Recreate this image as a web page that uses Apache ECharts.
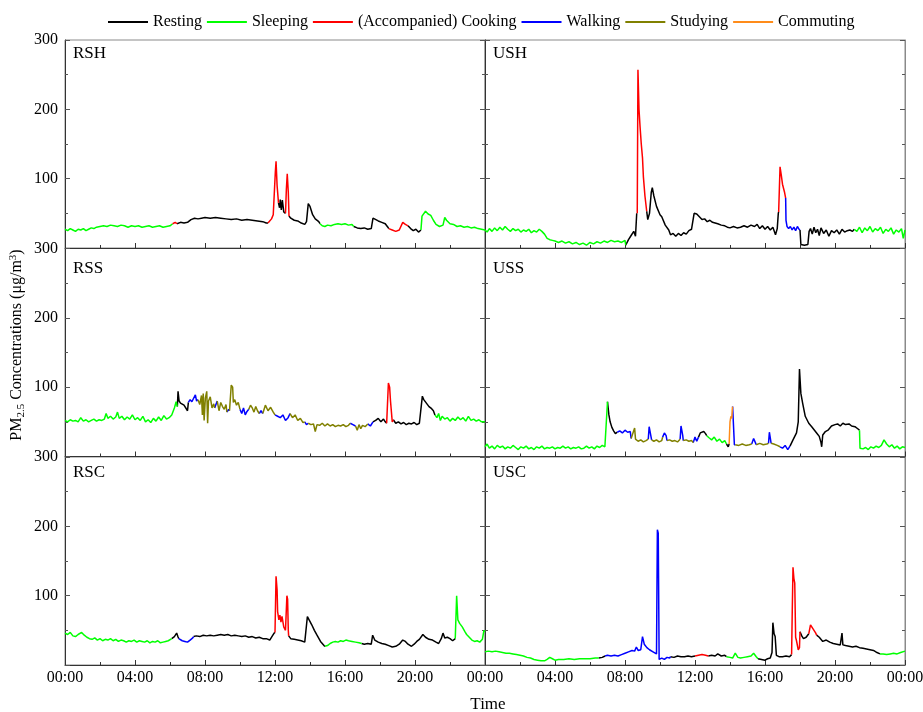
<!doctype html>
<html lang="en">
<head>
<meta charset="UTF-8">
<title>PM2.5 Concentrations</title>
<style>html,body{margin:0;padding:0;background:#fff}#chart{width:923px;height:712px}</style>
</head>
<body>
<div id="chart"></div>
<script src="https://cdn.jsdelivr.net/npm/echarts@6/dist/echarts.min.js"></script>
<script>
var activities = ['Resting', 'Sleeping', '(Accompanied) Cooking', 'Walking', 'Studying', 'Commuting'];
var actCodes = ['R', 'S', 'C', 'W', 'D', 'M'];
var actColors = ['#000000', '#00ff00', '#ff0000', '#0000ff', '#808000', '#ff8c1a'];
var xTickLabels = ['00:00', '04:00', '08:00', '12:00', '16:00', '20:00', '00:00'];
var panelNames = ['RSH', 'USH', 'RSS', 'USS', 'RSC', 'USC'];

// [hour, PM2.5]
var rshData = [[0,27],[0.15,25],[0.3,28],[0.45,26],[0.6,24],[0.75,27],[0.9,26],[1.05,28],[1.2,25],[1.35,27],[1.5,29],[1.65,28],[1.8,30],[2,31],[2.2,32],[2.4,31],[2.6,33],[2.8,32],[3,31],[3.2,33],[3.4,32],[3.6,30],[3.8,32],[4,31],[4.2,32],[4.4,30],[4.6,31],[4.8,32],[5,30],[5.2,31],[5.4,32],[5.6,30],[5.8,31],[6,32],[6.15,35],[6.3,37],[6.4,35],[6.6,37],[6.8,36],[7,37],[7.2,41],[7.4,43],[7.6,42],[7.8,43],[8,44],[8.3,43],[8.6,44],[8.9,43],[9.2,42],[9.5,41],[9.8,42],[10.1,40],[10.4,41],[10.7,40],[11,39],[11.3,38],[11.5,36],[11.6,36],[11.8,42],[11.9,48],[12.02,110],[12.06,125],[12.12,90],[12.2,65],[12.26,58],[12.3,70],[12.36,55],[12.42,69],[12.5,52],[12.6,50],[12.65,85],[12.7,107],[12.76,80],[12.8,46],[12.9,43],[13.1,40],[13.3,39],[13.5,36],[13.7,34],[13.8,38],[13.9,64],[14,60],[14.15,48],[14.3,42],[14.5,38],[14.57,35],[14.7,32],[14.85,31],[15,33],[15.2,32],[15.4,34],[15.6,35],[15.8,34],[16,35],[16.2,33],[16.4,34],[16.5,31],[16.7,29],[16.9,28],[17.1,29],[17.3,27],[17.5,28],[17.6,43],[17.7,41],[17.9,39],[18.1,37],[18.3,35],[18.45,30],[18.5,28],[18.7,26],[18.9,24],[19.1,26],[19.3,37],[19.45,34],[19.6,32],[19.75,28],[19.9,25],[20.05,27],[20.2,23],[20.34,26],[20.4,46],[20.6,53],[20.75,49],[20.9,47],[21.05,40],[21.2,34],[21.4,31],[21.6,33],[21.7,44],[21.8,40],[22,35],[22.2,34],[22.4,31],[22.6,32],[22.8,30],[23,31],[23.2,29],[23.4,30],[23.6,28],[23.8,27],[24,26]];
var rshActs = [[0,'S'],[6.15,'C'],[6.4,'R'],[11.6,'C'],[12.2,'R'],[12.6,'C'],[12.8,'R'],[14.57,'S'],[16.5,'R'],[18.5,'C'],[19.6,'R'],[20.34,'S']];

var ushData = [[0,26],[0.12,23],[0.25,28],[0.4,24],[0.55,29],[0.7,25],[0.85,30],[1,26],[1.15,31],[1.3,27],[1.45,24],[1.6,28],[1.75,25],[1.9,27],[2.05,23],[2.2,26],[2.35,24],[2.5,27],[2.65,22],[2.8,25],[2.95,23],[3.1,27],[3.25,24],[3.4,20],[3.55,14],[3.7,12],[3.85,11],[4,10],[4.2,8],[4.4,10],[4.6,7],[4.8,9],[5,6],[5.2,8],[5.4,5],[5.6,7],[5.8,4],[6,8],[6.2,6],[6.4,9],[6.6,7],[6.8,10],[7,8],[7.2,11],[7.4,9],[7.6,10],[7.8,8],[8,11],[8.04,4],[8.2,12],[8.35,18],[8.5,24],[8.6,17],[8.67,50],[8.7,50],[8.74,257],[8.8,200],[8.86,175],[8.93,150],[9,130],[9.05,103],[9.14,75],[9.24,53],[9.3,41],[9.4,50],[9.5,80],[9.56,87],[9.65,75],[9.8,60],[10,48],[10.1,45],[10.3,33],[10.5,26],[10.6,19],[10.75,21],[10.9,17],[11.05,21],[11.2,18],[11.35,22],[11.5,20],[11.65,25],[11.8,27],[11.95,50],[12.1,49],[12.25,45],[12.4,41],[12.55,42],[12.7,38],[12.85,40],[13,37],[13.15,36],[13.3,35],[13.5,33],[13.7,32],[13.85,30],[14,29],[14.2,31],[14.4,29],[14.6,30],[14.8,32],[15,30],[15.2,33],[15.4,31],[15.55,34],[15.7,28],[15.85,32],[16,27],[16.15,31],[16.3,26],[16.45,30],[16.6,19],[16.7,28],[16.76,50],[16.78,52],[16.86,117],[16.93,105],[17,92],[17.08,94],[17.12,80],[17.18,72],[17.2,40],[17.26,31],[17.35,28],[17.45,31],[17.55,26],[17.65,30],[17.75,25],[17.85,31],[17.95,27],[18,26],[18.05,5],[18.25,4],[18.45,5],[18.52,24],[18.6,28],[18.7,20],[18.8,30],[18.9,22],[19,27],[19.1,18],[19.2,29],[19.35,21],[19.5,26],[19.65,17],[19.8,25],[19.95,22],[20.1,26],[20.25,20],[20.4,27],[20.55,23],[20.7,25],[20.85,26],[21,24],[21.1,27],[21.25,24],[21.4,30],[21.55,22],[21.7,29],[21.85,25],[22,31],[22.15,23],[22.3,28],[22.45,25],[22.6,30],[22.75,21],[22.9,27],[23.05,24],[23.2,29],[23.35,20],[23.5,26],[23.65,23],[23.8,28],[23.9,14],[24,26]];
var ushActs = [[0,'S'],[8.04,'R'],[8.7,'C'],[9.24,'R'],[16.78,'C'],[17.18,'W'],[18,'R'],[21.1,'S']];

var rssData = [[0,52],[0.15,50],[0.3,53],[0.45,51],[0.6,52],[0.75,50],[0.9,56],[1.05,51],[1.2,53],[1.35,50],[1.5,52],[1.65,54],[1.8,51],[1.95,53],[2.1,52],[2.25,54],[2.35,62],[2.45,55],[2.6,58],[2.75,54],[2.9,57],[3,64],[3.1,55],[3.25,58],[3.4,53],[3.55,57],[3.7,54],[3.85,60],[4,53],[4.15,56],[4.3,52],[4.45,58],[4.6,50],[4.75,53],[4.9,49],[5.05,55],[5.2,51],[5.35,57],[5.5,52],[5.65,59],[5.8,54],[5.95,56],[6.1,60],[6.25,70],[6.35,79],[6.42,72],[6.46,94],[6.52,80],[6.6,77],[6.7,79],[6.8,74],[6.9,76],[7,66],[7.05,78],[7.15,82],[7.25,79],[7.35,84],[7.45,89],[7.52,80],[7.6,82],[7.7,75],[7.8,88],[7.85,60],[7.9,91],[7.95,52],[8.02,84],[8.1,94],[8.15,48],[8.2,80],[8.3,86],[8.4,70],[8.5,76],[8.55,70],[8.65,68],[8.7,80],[8.8,66],[8.9,78],[9,72],[9.1,68],[9.2,75],[9.25,64],[9.35,68],[9.4,66],[9.5,103],[9.58,100],[9.62,78],[9.7,82],[9.8,74],[9.9,78],[10,68],[10.1,62],[10.2,70],[10.3,60],[10.4,65],[10.5,68],[10.6,74],[10.7,70],[10.8,64],[10.9,72],[11,66],[11.1,62],[11.2,66],[11.3,62],[11.45,74],[11.6,66],[11.75,71],[11.9,64],[12,60],[12.15,58],[12.3,56],[12.45,60],[12.6,52],[12.75,56],[12.86,62],[13,56],[13.15,60],[13.3,52],[13.45,55],[13.6,49],[13.7,50],[13.8,46],[13.9,48],[14.05,46],[14.2,47],[14.3,36],[14.4,46],[14.55,45],[14.7,48],[14.85,44],[15,47],[15.15,44],[15.3,46],[15.45,43],[15.6,45],[15.75,44],[15.9,46],[16.05,43],[16.2,45],[16.3,48],[16.45,46],[16.6,44],[16.7,38],[16.8,46],[16.9,40],[17,45],[17.15,43],[17.3,47],[17.45,44],[17.6,50],[17.75,52],[17.9,55],[18.05,50],[18.2,54],[18.3,50],[18.38,48],[18.48,106],[18.55,100],[18.6,80],[18.7,50],[18.76,53],[18.9,48],[19.05,50],[19.2,47],[19.35,49],[19.5,46],[19.65,48],[19.8,47],[19.95,49],[20.1,46],[20.25,48],[20.35,47],[20.42,87],[20.5,82],[20.65,77],[20.8,72],[20.95,69],[21.05,66],[21.14,60],[21.25,56],[21.35,62],[21.45,52],[21.55,58],[21.7,54],[21.85,56],[22,51],[22.15,55],[22.3,52],[22.45,57],[22.6,53],[22.75,56],[22.9,51],[23.05,58],[23.2,52],[23.35,54],[23.5,51],[23.65,53],[23.8,50],[24,50]];
var rssActs = [[0,'S'],[6.42,'R'],[7.05,'W'],[7.6,'D'],[8.55,'W'],[8.7,'D'],[9.25,'W'],[9.4,'D'],[10,'W'],[10.5,'D'],[11.1,'W'],[11.3,'D'],[12,'W'],[12.86,'D'],[13.7,'W'],[13.9,'D'],[16.3,'W'],[16.6,'D'],[17.3,'W'],[17.6,'R'],[18.38,'C'],[18.76,'R'],[21.14,'S']];

var ussData = [[0,14],[0.12,18],[0.25,12],[0.4,15],[0.55,11],[0.7,16],[0.85,13],[1,15],[1.15,11],[1.3,14],[1.45,12],[1.6,16],[1.75,13],[1.9,10],[2.05,14],[2.2,12],[2.35,15],[2.5,11],[2.65,13],[2.8,10],[2.95,14],[3.1,12],[3.25,15],[3.4,11],[3.55,13],[3.7,12],[3.85,14],[4,11],[4.15,13],[4.3,12],[4.45,15],[4.6,12],[4.75,14],[4.9,11],[5.05,13],[5.2,12],[5.35,14],[5.5,11],[5.65,12],[5.8,15],[5.95,12],[6.1,14],[6.25,11],[6.4,15],[6.55,13],[6.7,16],[6.85,14],[6.95,15],[7,79],[7.08,60],[7.15,50],[7.25,42],[7.35,37],[7.45,33],[7.56,35],[7.7,37],[7.85,34],[8,38],[8.15,35],[8.3,36],[8.35,26],[8.45,24],[8.55,41],[8.6,25],[8.75,22],[8.9,24],[9.05,21],[9.2,23],[9.33,25],[9.38,43],[9.48,41],[9.52,24],[9.65,22],[9.8,24],[9.95,21],[10.1,23],[10.15,28],[10.25,34],[10.35,30],[10.4,23],[10.55,24],[10.7,22],[10.85,23],[11,21],[11.15,25],[11.2,44],[11.3,30],[11.33,23],[11.5,24],[11.65,22],[11.8,23],[11.9,20],[12,28],[12.1,22],[12.2,28],[12.3,34],[12.4,32],[12.5,36],[12.6,33],[12.67,30],[12.8,27],[12.95,24],[13.1,28],[13.25,22],[13.4,25],[13.55,20],[13.7,23],[13.8,18],[13.9,14],[13.95,18],[14,50],[14.05,58],[14.1,55],[14.13,68],[14.15,72],[14.2,74],[14.25,17],[14.3,17],[14.5,16],[14.7,18],[14.9,16],[15.1,17],[15.24,18],[15.35,26],[15.45,20],[15.5,17],[15.7,19],[15.9,17],[16.1,18],[16.2,19],[16.25,35],[16.3,33],[16.35,19],[16.5,18],[16.7,16],[16.86,14],[17,12],[17.15,16],[17.3,10],[17.4,14],[17.43,15],[17.6,24],[17.8,34],[17.9,50],[17.97,126],[18.05,91],[18.15,77],[18.3,58],[18.5,48],[18.67,43],[18.95,34],[19.1,29],[19.2,20],[19.24,14],[19.3,31],[19.45,36],[19.6,38],[19.8,44],[20,46],[20.15,47],[20.3,44],[20.45,48],[20.6,46],[20.8,47],[20.95,44],[21.14,43],[21.3,40],[21.4,38],[21.43,12],[21.6,11],[21.75,13],[21.9,10],[22.05,14],[22.2,12],[22.35,15],[22.5,13],[22.65,16],[22.8,24],[22.95,18],[23.1,14],[23.25,17],[23.4,12],[23.55,15],[23.7,11],[23.85,14],[24,13]];
var ussActs = [[0,'S'],[7,'R'],[7.56,'W'],[8.35,'D'],[9.33,'W'],[9.52,'D'],[10.15,'W'],[10.4,'D'],[11.15,'W'],[11.33,'D'],[11.9,'W'],[12.2,'R'],[12.67,'S'],[13.8,'R'],[13.95,'M'],[14.15,'W'],[14.3,'D'],[15.24,'W'],[15.5,'D'],[16.2,'W'],[16.35,'D'],[16.86,'W'],[17.43,'R'],[21.4,'S']];

var rscData = [[0,46],[0.15,44],[0.3,47],[0.45,42],[0.6,41],[0.75,44],[0.95,47],[1.1,43],[1.25,40],[1.4,38],[1.55,37],[1.7,39],[1.85,36],[2,38],[2.15,35],[2.3,37],[2.45,36],[2.6,38],[2.75,35],[2.9,37],[3.05,34],[3.2,36],[3.35,35],[3.5,33],[3.65,35],[3.8,34],[3.95,36],[4.1,33],[4.25,35],[4.4,34],[4.55,33],[4.7,35],[4.85,32],[5,34],[5.15,33],[5.3,35],[5.45,32],[5.6,33],[5.75,34],[5.9,35],[6,36],[6.1,38],[6.25,41],[6.38,46],[6.45,41],[6.5,38],[6.7,35],[6.85,34],[7,33],[7.15,36],[7.3,39],[7.35,41],[7.5,42],[7.7,41],[7.9,43],[8.1,42],[8.3,43],[8.5,42],[8.7,43],[8.9,44],[9.1,43],[9.3,44],[9.5,42],[9.7,43],[9.9,42],[10.1,41],[10.3,42],[10.5,40],[10.7,41],[10.9,39],[11.1,40],[11.3,38],[11.5,38],[11.7,36],[11.85,42],[11.95,46],[12,47],[12.06,128],[12.12,108],[12.15,77],[12.22,65],[12.28,72],[12.34,62],[12.4,70],[12.5,55],[12.6,50],[12.68,100],[12.72,95],[12.76,50],[12.78,42],[12.9,38],[13.1,37],[13.3,36],[13.5,35],[13.7,33],[13.78,32],[13.85,70],[13.95,65],[14.1,58],[14.25,50],[14.4,43],[14.6,34],[14.8,28],[14.86,27],[15,28],[15.15,31],[15.3,33],[15.45,34],[15.6,33],[15.75,35],[15.9,34],[16.05,36],[16.2,35],[16.4,34],[16.6,33],[16.8,32],[16.95,31],[17.1,30],[17.3,31],[17.5,30],[17.58,43],[17.7,36],[17.9,33],[18.1,31],[18.3,30],[18.5,28],[18.7,26],[18.9,27],[19.1,30],[19.3,36],[19.45,34],[19.6,30],[19.8,27],[19.95,30],[20.1,34],[20.25,37],[20.45,44],[20.6,40],[20.8,37],[21,36],[21.2,33],[21.35,31],[21.5,38],[21.6,46],[21.7,39],[21.85,40],[22,38],[22.15,35],[22.25,36],[22.3,38],[22.38,100],[22.45,65],[22.55,60],[22.7,55],[22.85,48],[22.95,44],[23.1,40],[23.25,36],[23.4,34],[23.55,35],[23.7,33],[23.85,37],[23.94,50],[24,48]];
var rscActs = [[0,'S'],[6.1,'R'],[6.5,'W'],[7.33,'R'],[12,'C'],[12.77,'R'],[14.85,'S'],[16.95,'R'],[22.28,'S']];

var uscData = [[0,19],[0.2,20],[0.4,19],[0.6,20],[0.8,19],[1,18],[1.2,17],[1.4,17],[1.6,16],[1.8,15],[2,14],[2.2,13],[2.4,11],[2.6,10],[2.8,8],[3,7],[3.2,6],[3.4,6],[3.55,8],[3.7,11],[3.85,9],[4,7],[4.2,8],[4.5,8],[4.8,9],[5.1,8],[5.4,9],[5.7,9],[6,9],[6.3,10],[6.5,10],[6.7,11],[6.86,13],[7,14],[7.2,13],[7.4,14],[7.6,13],[7.8,15],[8,17],[8.2,19],[8.4,21],[8.55,20],[8.65,26],[8.75,21],[8.9,22],[9,41],[9.1,30],[9.25,25],[9.4,22],[9.6,19],[9.8,16],[9.85,195],[9.9,190],[9.95,8],[10.1,10],[10.25,8],[10.4,11],[10.55,10],[10.6,12],[10.8,11],[11,13],[11.2,12],[11.4,12],[11.6,13],[11.8,12],[12,13],[12.2,14],[12.4,15],[12.6,14],[12.76,13],[12.95,14],[13.15,13],[13.3,16],[13.5,13],[13.7,14],[13.8,12],[14,11],[14.15,10],[14.3,17],[14.45,11],[14.6,10],[14.8,11],[15,12],[15.2,13],[15.35,17],[15.5,12],[15.6,9],[15.8,8],[16,7],[16.15,9],[16.3,10],[16.4,18],[16.45,61],[16.52,45],[16.58,41],[16.65,14],[16.8,12],[17,12],[17.2,13],[17.4,12],[17.5,13],[17.52,15],[17.56,82],[17.6,141],[17.65,125],[17.7,118],[17.75,40],[17.8,35],[17.9,22],[17.97,25],[18,48],[18.1,42],[18.2,38],[18.35,40],[18.45,41],[18.5,45],[18.6,58],[18.7,56],[18.8,50],[18.9,46],[18.95,43],[19.1,40],[19.3,34],[19.5,36],[19.7,33],[19.9,31],[20.1,30],[20.3,29],[20.4,46],[20.45,29],[20.6,28],[20.8,27],[21,26],[21.2,27],[21.4,25],[21.6,24],[21.8,23],[22,22],[22.2,21],[22.4,18],[22.57,16],[22.75,16],[22.95,15],[23.15,16],[23.35,17],[23.55,16],[23.75,18],[24,20]];
var uscActs = [[0,'S'],[6.5,'R'],[6.86,'W'],[10.57,'R'],[12,'C'],[12.7,'R'],[13.8,'S'],[15.6,'R'],[17.52,'C'],[18,'R'],[18.5,'C'],[18.95,'R'],[22.57,'S']];

var panels = [
    {data: rshData, acts: rshActs},
    {data: ushData, acts: ushActs},
    {data: rssData, acts: rssActs},
    {data: ussData, acts: ussActs},
    {data: rscData, acts: rscActs},
    {data: uscData, acts: uscActs}
];

var font = 'Liberation Serif';
var colLeft = [65, 485];
var rowTop = [40, 248.5, 457];
var nameTop = [45, 260, 464];

function actAt(acts, t) {
    var a = acts[0][1];
    for (var i = 0; i < acts.length; i++) {
        if (acts[i][0] <= t) a = acts[i][1];
    }
    return a;
}

var grids = [], xAxes = [], yAxes = [], series = [], graphics = [];

panels.forEach(function (p, i) {
    var r = Math.floor(i / 2), c = i % 2;
    grids.push({left: colLeft[c], top: rowTop[r], width: 420, height: 208,
        outerBoundsMode: 'none', containLabel: false,
        show: true, borderColor: '#8a8a8a', borderWidth: 1});
    xAxes.push({
        gridIndex: i, type: 'value', min: 0, max: 24, interval: 4,
        axisLine: {lineStyle: {color: '#333'}},
        axisTick: {inside: true, length: 5, lineStyle: {color: '#333'}},
        minorTick: {show: true, splitNumber: 2, length: 3, lineStyle: {color: '#333'}},
        splitLine: {show: false},
        axisLabel: {
            show: r === 2, showMaxLabel: c === 1, margin: 5,
            color: '#000', fontFamily: font, fontSize: 16,
            formatter: function (v) { return xTickLabels[Math.round(v / 4)]; }
        }
    });
    [['left', c === 0], ['right', false]].forEach(function (s) {
        yAxes.push({
            gridIndex: i, type: 'value', min: 0, max: 300, interval: 100, position: s[0],
            axisLine: {show: true, lineStyle: {color: s[0] === 'left' ? '#333' : '#8a8a8a'}},
            axisTick: {show: true, inside: true, length: 5, lineStyle: {color: '#555'}},
            minorTick: {show: true, splitNumber: 2, length: 3, lineStyle: {color: '#555'}},
            splitLine: {show: false},
            axisLabel: {
                show: s[1], margin: 7, color: '#000', fontFamily: font, fontSize: 16,
                formatter: function (v) { return v === 0 ? '' : v; }
            }
        });
    });

    var codes = p.data.map(function (d) { return actAt(p.acts, d[0]); });
    actCodes.forEach(function (code, k) {
        if (codes.indexOf(code) < 0) return;
        var pts = p.data.map(function (d, j) {
            var on = codes[j] === code || (j > 0 && codes[j - 1] === code);
            return [d[0], on ? d[1] : '-'];
        });
        series.push({
            type: 'line', name: activities[k], xAxisIndex: i, yAxisIndex: 2 * i,
            data: pts, symbol: 'none', connectNulls: false, animation: false,
            lineStyle: {width: 1.5, color: actColors[k]},
            itemStyle: {color: actColors[k]}
        });
    });

    graphics.push({
        type: 'text', left: colLeft[c] + 8, top: nameTop[r],
        style: {text: panelNames[i], font: '17px "Liberation Serif"', fill: '#000'}
    });
});

graphics.push({
    type: 'text', x: 17, y: 345, rotation: Math.PI / 2,
    style: {
        text: 'PM{sub|2.5} Concentrations (μg/m{sup|3})',
        font: '16px "Liberation Serif"', fill: '#000', align: 'center', verticalAlign: 'middle',
        rich: {
            sub: {fontSize: 11, fontFamily: font, padding: [8, 0, 0, 0], verticalAlign: 'bottom'},
            sup: {fontSize: 11, fontFamily: font, padding: [0, 0, 8, 0], verticalAlign: 'top'}
        }
    }
});
graphics.push({
    type: 'text', x: 488, y: 705,
    style: {text: 'Time', font: '17px "Liberation Serif"', fill: '#000', align: 'center', verticalAlign: 'middle'}
});

var myChart = echarts.init(document.getElementById('chart'));
myChart.setOption({
    backgroundColor: '#fff',
    animation: false,
    legend: {
        top: 9, left: 103, itemWidth: 40, itemHeight: 2, itemGap: 5, icon: 'rect',
        data: activities,
        textStyle: {color: '#000', fontFamily: font, fontSize: 16}
    },
    grid: grids,
    xAxis: xAxes,
    yAxis: yAxes,
    series: series,
    graphic: graphics
});
</script>
</body>
</html>
